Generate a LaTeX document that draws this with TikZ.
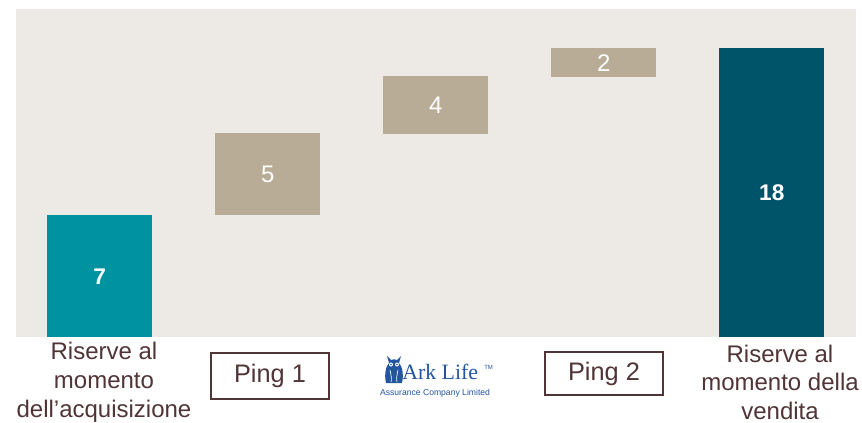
\documentclass[tikz,border=0pt]{standalone}
\usepackage{fontspec}
\setmainfont{Liberation Sans}
\newfontfamily\serifark{Liberation Serif}
\definecolor{panel}{RGB}{237,234,229}
\definecolor{tealbar}{RGB}{0,146,160}
\definecolor{tanbar}{RGB}{184,172,150}
\definecolor{darkbar}{RGB}{0,84,106}
\definecolor{txtbrown}{RGB}{80,52,54}
\definecolor{arkblue}{RGB}{35,85,160}
\begin{document}
\begin{tikzpicture}[x=0.75pt,y=-0.75pt,
  barbox/.style={rectangle,inner sep=0pt,anchor=north west,minimum width=78.75pt,text=white,font=\fontsize{18}{20}\selectfont},
  pingbox/.style={rectangle,draw=txtbrown,line width=1.3pt,inner sep=0pt,text=txtbrown,font=\fontsize{19}{21}\selectfont},
  catlabel/.style={align=center,text=txtbrown,inner sep=0pt,font=\fontsize{18}{21.5}\selectfont}]
\useasboundingbox (0,0) rectangle (862,423);
\fill[panel] (16,9) rectangle (856,337);
% bars
\node[barbox,fill=tealbar,minimum height=91.5pt,font=\fontsize{17}{20}\selectfont\bfseries] (b1) at (47,215) {7};
\node[barbox,fill=tanbar,minimum height=61.5pt] (b2) at (215,133) {5};
\node[barbox,fill=tanbar,minimum height=43.5pt] (b3) at (383,76) {4};
\node[barbox,fill=tanbar,minimum height=21.75pt] (b4) at (551,48) {2};
\node[barbox,fill=darkbar,minimum height=216.75pt,font=\fontsize{17}{20}\selectfont\bfseries] (b5) at (719,48) {18};
% category labels
\node[catlabel,anchor=base] (l1) at (104,417) {Riserve al\\momento\\dell’acquisizione};
\node[pingbox,minimum width=88.5pt,minimum height=34.5pt] (p1) at (270,376) {Ping 1};
\node[pingbox,minimum width=88.5pt,minimum height=32.25pt] (p2) at (604,373.5) {Ping 2};
\node[catlabel,anchor=base] (l5) at (780,419.5) {Riserve al\\momento della\\vendita};
% Ark Life logo
\node[anchor=base west,inner sep=0pt,text=arkblue,font=\fontsize{16.4}{18}\serifark] (ark) at (402,379) {Ark Life};
\node[anchor=base west,inner sep=0pt,text=arkblue,font=\fontsize{4.5}{5}\selectfont] (tm) at (484,369) {TM};
\node[anchor=base,inner sep=0pt,text=arkblue,font=\fontsize{6.45}{7}\selectfont] (acl) at (435,395) {Assurance Company Limited};
% owl
\begin{scope}[arkblue]
  \fill (386,383) .. controls (384,374) and (386,366) .. (389,363)
        -- (387,356) -- (391,360) .. controls (393,359) and (395,359) .. (397,360)
        -- (401,356) -- (399,363) .. controls (402,366) and (404,374) .. (402,383) -- cycle;
  \fill[white] (391,364.5) circle (2);
  \fill[white] (397,364.5) circle (2);
  \fill (391,364.5) circle (0.8);
  \fill (397,364.5) circle (0.8);
  \draw[white,line width=0.5pt] (390,370) .. controls (391,375) and (392,379) .. (391,382);
  \draw[white,line width=0.5pt] (398,370) .. controls (397,375) and (396,379) .. (397,382);
\end{scope}
\end{tikzpicture}
\end{document}
